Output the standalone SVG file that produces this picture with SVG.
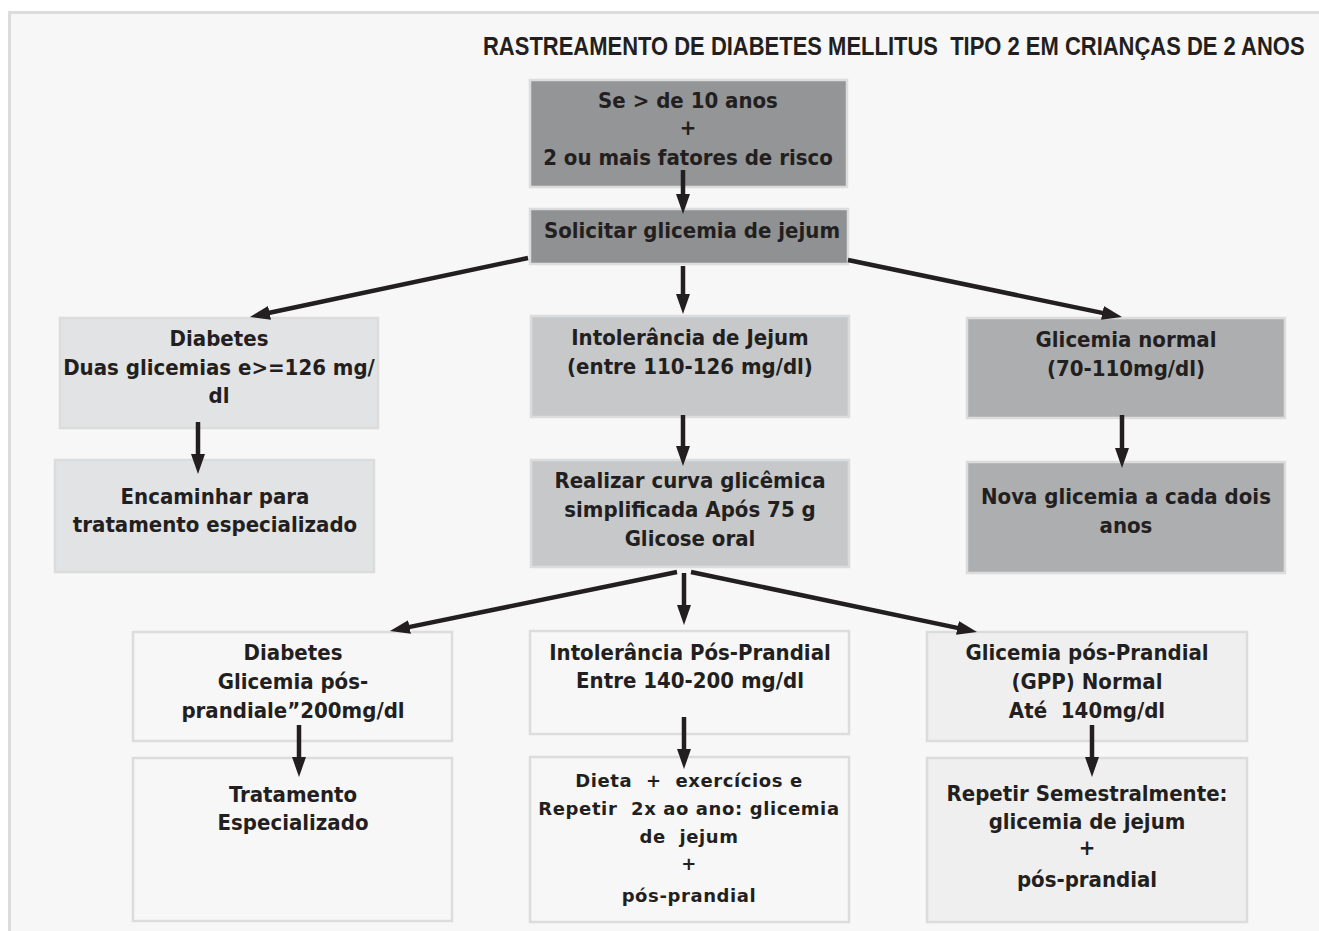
<svg xmlns="http://www.w3.org/2000/svg" width="1319" height="931" viewBox="0 0 1319 931">
<defs>
<marker id="ah" markerUnits="userSpaceOnUse" markerWidth="20" markerHeight="14" refX="12" refY="7" orient="auto">
<path d="M0,0 L20,7 L0,14 z" fill="#231f20"/>
</marker>
<style>
.box{stroke:#dcdcdc;stroke-width:2.5}
.dk{fill:#939596}
.dk2{fill:#8f9192}
.lt{fill:#e2e3e4}
.md{fill:#c6c8ca}
.gr{fill:#adaeb0}
.wh{fill:#f7f7f7}
.pl{fill:#efefef}
.t{font-family:"DejaVu Sans Condensed","DejaVu Sans",sans-serif;font-weight:bold;font-size:22px;fill:#231f20;text-anchor:middle}
.s{font-family:"DejaVu Sans",sans-serif;font-weight:bold;font-size:18px;letter-spacing:0.6px;fill:#231f20;text-anchor:middle;white-space:pre}
.title{font-family:"Liberation Sans Narrow","Liberation Sans",sans-serif;font-weight:bold;font-size:25px;fill:#231f20}
.c{stroke:#231f20;stroke-width:4.5;fill:none;marker-end:url(#ah)}
</style>
</defs>
<rect x="0" y="0" width="1319" height="931" fill="#ffffff"/>
<rect x="9.5" y="12.5" width="1320" height="930" fill="#f7f7f7" stroke="#dcdcdc" stroke-width="3"/>
<text class="title" transform="translate(483,55) scale(0.8,1)" x="0" y="0" textLength="1027" lengthAdjust="spacingAndGlyphs" xml:space="preserve">RASTREAMENTO DE DIABETES MELLITUS  TIPO 2 EM CRIANÇAS DE 2 ANOS</text>

<g id="n-top"><rect class="box dk" x="530" y="80" width="317" height="107"/>
<text class="t" x="688" y="108">Se &gt; de 10 anos</text><text class="t" x="688" y="135">+</text><text class="t" x="688" y="165">2 ou mais fatores de risco</text></g>
<g id="n-solicitar"><rect class="box dk2" x="530" y="209" width="318" height="55"/>
<text class="t" x="692" y="238">Solicitar glicemia de jejum</text></g>
<g id="n-diabetes"><rect class="box lt" x="60" y="318" width="318" height="110"/>
<text class="t" x="219" y="346">Diabetes</text><text class="t" x="219" y="375">Duas glicemias e&gt;=126 mg/</text><text class="t" x="219" y="403">dl</text></g>
<g id="n-encaminhar"><rect class="box lt" x="55" y="460" width="319" height="112"/>
<text class="t" x="215" y="504">Encaminhar para</text><text class="t" x="215" y="532">tratamento especializado</text></g>
<g id="n-intjejum"><rect class="box md" x="531" y="316" width="318" height="101"/>
<text class="t" x="690" y="345">Intolerância de Jejum</text><text class="t" x="690" y="374">(entre 110-126 mg/dl)</text></g>
<g id="n-realizar"><rect class="box md" x="531" y="460" width="318" height="107"/>
<text class="t" x="690" y="488">Realizar curva glicêmica</text><text class="t" x="690" y="517">simplificada Após 75 g</text><text class="t" x="690" y="546">Glicose oral</text></g>
<g id="n-normal"><rect class="box gr" x="967" y="318" width="318" height="100"/>
<text class="t" x="1126" y="347">Glicemia normal</text><text class="t" x="1126" y="376">(70-110mg/dl)</text></g>
<g id="n-nova"><rect class="box gr" x="967" y="462" width="318" height="111"/>
<text class="t" x="1126" y="504">Nova glicemia a cada dois</text><text class="t" x="1126" y="533">anos</text></g>
<g id="n-diabpos"><rect class="box wh" x="133" y="632" width="319" height="109"/>
<text class="t" x="293" y="660">Diabetes</text><text class="t" x="293" y="689">Glicemia pós-</text><text class="t" x="293" y="718">prandiale”200mg/dl</text></g>
<g id="n-trat"><rect class="box wh" x="133" y="758" width="319" height="163"/>
<text class="t" x="293" y="802">Tratamento</text><text class="t" x="293" y="830">Especializado</text></g>
<g id="n-intpos"><rect class="box wh" x="530" y="631" width="319" height="103"/>
<text class="t" x="690" y="660">Intolerância Pós-Prandial</text><text class="t" x="690" y="688">Entre 140-200 mg/dl</text></g>
<g id="n-dieta"><rect class="box wh" x="530" y="757" width="319" height="165"/>
<text class="s" x="689" y="787" xml:space="preserve">Dieta  +  exercícios e</text><text class="s" x="689" y="815" xml:space="preserve">Repetir  2x ao ano: glicemia</text><text class="s" x="689" y="843" xml:space="preserve">de  jejum</text><text class="s" x="689" y="870">+</text><text class="s" x="689" y="902">pós-prandial</text></g>
<g id="n-gpp"><rect class="box pl" x="927" y="632" width="320" height="109"/>
<text class="t" x="1087" y="660">Glicemia pós-Prandial</text><text class="t" x="1087" y="689">(GPP) Normal</text><text class="t" x="1087" y="718" xml:space="preserve">Até  140mg/dl</text></g>
<g id="n-repetir"><rect class="box pl" x="927" y="758" width="320" height="164"/>
<text class="t" x="1087" y="801">Repetir Semestralmente:</text><text class="t" x="1087" y="829">glicemia de jejum</text><text class="t" x="1087" y="855">+</text><text class="t" x="1087" y="887">pós-prandial</text></g>

<g id="connectors">
<line class="c" x1="683" y1="170" x2="683" y2="206"/>
<line class="c" x1="528" y1="258" x2="257.8" y2="315.3"/>
<line class="c" x1="683" y1="266" x2="683" y2="306"/>
<line class="c" x1="848" y1="260" x2="1114.2" y2="315.4"/>
<line class="c" x1="198" y1="422" x2="198" y2="466"/>
<line class="c" x1="683" y1="415" x2="683" y2="458"/>
<line class="c" x1="1122" y1="415" x2="1122" y2="460"/>
<line class="c" x1="684" y1="573" x2="684" y2="617"/>
<line class="c" x1="677" y1="572" x2="397.8" y2="629.4"/>
<line class="c" x1="691" y1="572" x2="969.2" y2="630.4"/>
<line class="c" x1="299" y1="725" x2="299" y2="769"/>
<line class="c" x1="684" y1="717" x2="684" y2="761"/>
<line class="c" x1="1092" y1="725" x2="1092" y2="769"/>
</g>
</svg>
